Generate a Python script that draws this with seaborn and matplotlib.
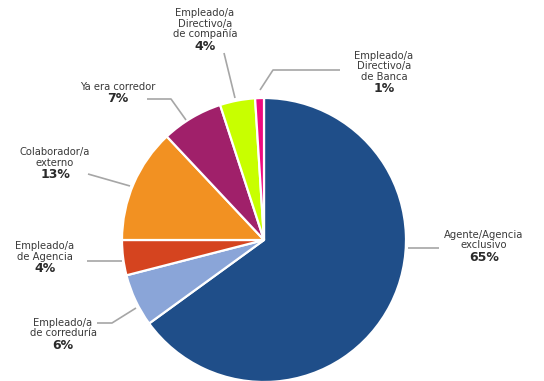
import matplotlib
matplotlib.use("Agg")
import matplotlib.pyplot as plt
import seaborn as sns
import numpy as np

# Survey shares (percent), clockwise from 12 o'clock
categories = [
    "Agente/Agencia\nexclusivo",
    "Empleado/a\nde correduría",
    "Empleado/a\nde Agencia",
    "Colaborador/a\nexterno",
    "Ya era corredor",
    "Empleado/a\nDirectivo/a\nde compañía",
    "Empleado/a\nDirectivo/a\nde Banca",
]
values = [65, 6, 4, 13, 7, 4, 1]
colors = ["#1f4e89", "#8aa5d8", "#d5441f", "#f29122", "#a0206a", "#c8ff00", "#ef0b7f"]

sns.set_theme(style="white")
plt.rcParams["font.family"] = ["DejaVu Sans"]

W, H = 544, 381
fig = plt.figure(figsize=(W / 100, H / 100), dpi=100)
ax = fig.add_axes([0, 0, 1, 1])

cx, cy, R = 264, H - 240, 142
ax.pie(values, colors=sns.color_palette(colors), startangle=90, counterclock=False,
       center=(cx, cy), radius=R,
       wedgeprops=dict(edgecolor="white", linewidth=1.6))
ax.set_xlim(0, W)
ax.set_ylim(0, H)
ax.set_aspect("equal")
ax.axis("off")

# Label layout in pixel space (x, y from top): text centre, label-line top,
# and leader-line path from the label toward its slice
layout = [
    dict(tx=484, ty=235, path=[(439, 248), (408, 248)]),
    dict(tx=63, ty=323, path=[(97, 323), (112, 323), (136, 308)]),
    dict(tx=45, ty=246, path=[(87, 261), (122, 261)]),
    dict(tx=55, ty=152, path=[(88, 174), (130, 186)]),
    dict(tx=118, ty=87, path=[(147, 99), (171, 99), (186, 120)]),
    dict(tx=205, ty=13, path=[(224, 53), (235, 98)]),
    dict(tx=384, ty=56, path=[(340, 70), (273, 70), (260, 90)]),
]

line_h = 10.5
for cat, val, lay in zip(categories, values, layout):
    lines = cat.split("\n")
    for i, ln in enumerate(lines):
        ax.text(lay["tx"], H - (lay["ty"] + i * line_h), ln, ha="center", va="center",
                fontsize=7.2, color="#3a3a3a")
    ax.text(lay["tx"], H - (lay["ty"] + len(lines) * line_h + 1.5), f"{val}%",
            ha="center", va="center", fontsize=9, fontweight="bold", color="#2a2a2a")
    px = [p[0] for p in lay["path"]]
    py = [H - p[1] for p in lay["path"]]
    ax.plot(px, py, color="#a6a6a6", lw=1.2, solid_capstyle="butt")

fig.savefig("out.png", dpi=100)
